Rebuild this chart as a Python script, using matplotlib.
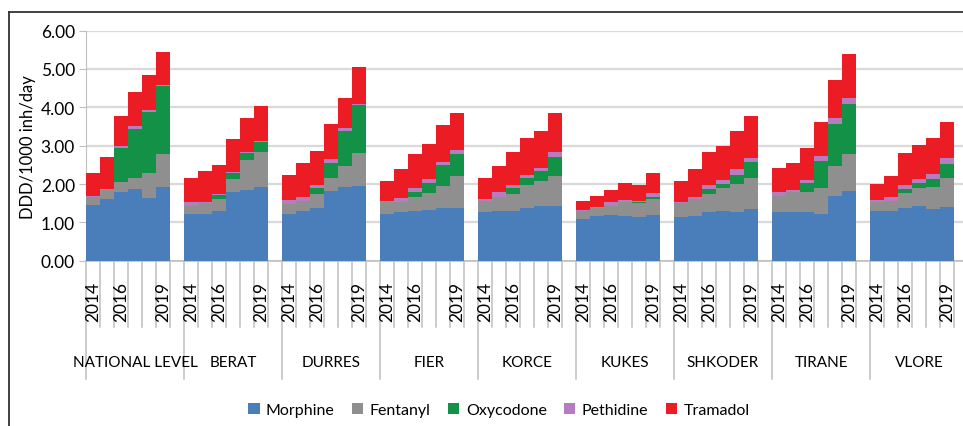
import numpy as np
import matplotlib
matplotlib.use('Agg')
import matplotlib.pyplot as plt
from matplotlib.patches import Patch
from matplotlib.lines import Line2D

plt.rcParams['font.family'] = ['Lato', 'DejaVu Sans']

groups = ['NATIONAL LEVEL', 'BERAT', 'DURRES', 'FIER', 'KORCE',
          'KUKES', 'SHKODER', 'TIRANE', 'VLORE']
years = ['2014', '2015', '2016', '2017', '2018', '2019']
shown_years = ['2014', '2016', '2019']
drugs = ['Morphine', 'Fentanyl', 'Oxycodone', 'Pethidine', 'Tramadol']
colors = ['#4a7ebb', '#8f8f8f', '#139146', '#b57cc0', '#ec1c24']

# DDD/1000 inh/day, one row per group, one value per year (2014..2019)
morphine = [
    [1.46, 1.61, 1.78, 1.87, 1.63, 1.91],
    [1.22, 1.23, 1.30, 1.80, 1.85, 1.91],
    [1.23, 1.30, 1.37, 1.83, 1.91, 1.96],
    [1.23, 1.26, 1.30, 1.33, 1.37, 1.37],
    [1.26, 1.29, 1.30, 1.37, 1.42, 1.43],
    [1.10, 1.16, 1.20, 1.17, 1.13, 1.19],
    [1.13, 1.17, 1.26, 1.30, 1.26, 1.35],
    [1.28, 1.28, 1.26, 1.22, 1.68, 1.81],
    [1.30, 1.30, 1.37, 1.42, 1.35, 1.39],
]
fentanyl = [
    [0.21, 0.24, 0.28, 0.30, 0.67, 0.86],
    [0.21, 0.27, 0.31, 0.33, 0.78, 0.93],
    [0.25, 0.25, 0.37, 0.34, 0.57, 0.85],
    [0.29, 0.28, 0.37, 0.44, 0.59, 0.85],
    [0.31, 0.36, 0.44, 0.60, 0.65, 0.77],
    [0.20, 0.21, 0.23, 0.35, 0.37, 0.42],
    [0.37, 0.44, 0.48, 0.59, 0.74, 0.82],
    [0.42, 0.50, 0.52, 0.68, 0.80, 0.97],
    [0.22, 0.27, 0.39, 0.47, 0.56, 0.77],
]
oxycodone = [
    [0.00, 0.00, 0.87, 1.26, 1.57, 1.78],
    [0.00, 0.00, 0.10, 0.16, 0.18, 0.25],
    [0.00, 0.00, 0.15, 0.38, 0.91, 1.25],
    [0.00, 0.00, 0.13, 0.26, 0.54, 0.55],
    [0.00, 0.00, 0.16, 0.18, 0.28, 0.50],
    [0.00, 0.00, 0.00, 0.00, 0.02, 0.04],
    [0.00, 0.00, 0.13, 0.11, 0.23, 0.40],
    [0.00, 0.00, 0.25, 0.71, 1.09, 1.31],
    [0.00, 0.00, 0.11, 0.13, 0.22, 0.36],
]
pethidine = [
    [0.03, 0.02, 0.07, 0.09, 0.05, 0.03],
    [0.09, 0.03, 0.03, 0.02, 0.02, 0.02],
    [0.10, 0.10, 0.08, 0.10, 0.06, 0.03],
    [0.04, 0.09, 0.10, 0.10, 0.08, 0.12],
    [0.04, 0.13, 0.08, 0.08, 0.08, 0.13],
    [0.03, 0.04, 0.09, 0.07, 0.05, 0.11],
    [0.03, 0.06, 0.11, 0.10, 0.16, 0.11],
    [0.10, 0.06, 0.07, 0.11, 0.15, 0.14],
    [0.06, 0.08, 0.11, 0.11, 0.13, 0.15],
]
tramadol = [
    [0.60, 0.83, 0.78, 0.89, 0.92, 0.85],
    [0.65, 0.82, 0.76, 0.86, 0.88, 0.92],
    [0.65, 0.89, 0.88, 0.92, 0.79, 0.95],
    [0.53, 0.76, 0.88, 0.91, 0.97, 0.95],
    [0.56, 0.70, 0.86, 0.96, 0.96, 1.01],
    [0.24, 0.27, 0.33, 0.44, 0.41, 0.53],
    [0.56, 0.72, 0.85, 0.88, 0.98, 1.10],
    [0.63, 0.71, 0.83, 0.91, 1.00, 1.16],
    [0.42, 0.57, 0.83, 0.89, 0.93, 0.94],
]
series = [morphine, fentanyl, oxycodone, pethidine, tramadol]

slots = len(years) + 1   # one empty slot after each group
fig = plt.figure(figsize=(9.63, 4.27), dpi=100)
ax = fig.add_axes([86 / 963, 0.387, 882 / 963, 0.539])

x = np.array([g * slots + i + 0.5 for g in range(len(groups)) for i in range(len(years))])
bottom = np.zeros(len(x))
for vals, col, name in zip(series, colors, drugs):
    v = np.array(vals).ravel()
    ax.bar(x, v, width=0.93, bottom=bottom, color=col, label=name, zorder=3)
    bottom += v

ax.set_ylim(0, 6)
ax.set_xlim(0, slots * len(groups))
ax.set_yticks(np.arange(0, 6.01, 1))
ax.set_yticklabels(['%.2f' % t for t in np.arange(0, 6.01, 1)], fontsize=12.5)
ax.yaxis.grid(True, color='#d9d9d9', lw=1.6, zorder=0)
ax.set_ylabel('DDD/1000 inh/day', fontsize=12, labelpad=3)
for s in ['top', 'right']:
    ax.spines[s].set_visible(False)
ax.spines['left'].set_color('#bfbfbf')
ax.spines['bottom'].set_color('#bfbfbf')
ax.spines['bottom'].set_linewidth(1.2)
ax.tick_params(axis='y', length=5, color='#bfbfbf', pad=3)
ax.tick_params(axis='x', bottom=False, labelbottom=False)

# multi-level category axis
trans = ax.get_xaxis_transform()
px = 1 / 230.0
for g, name in enumerate(groups):
    x0 = g * slots
    ax.plot([x0, x0], [0, -118 * px], color='#bfbfbf', lw=1.1, transform=trans, clip_on=False)
    for i in range(1, slots):
        ax.plot([x0 + i, x0 + i], [0, -66 * px], color='#bfbfbf', lw=1.1,
                transform=trans, clip_on=False)
    for i, yr in enumerate(years):
        if yr in shown_years:
            ax.text(x0 + i + 0.5, -40 * px, yr, rotation=90, ha='center', va='center',
                    fontsize=12.5, transform=trans)
    ax.text(x0 + slots / 2, -101 * px, name, ha='center', va='center',
            fontsize=11, transform=trans)

handles = [Patch(facecolor=c, edgecolor='none') for c in colors]
fig.legend(handles, drugs, loc='center', bbox_to_anchor=(499 / 963, 16 / 427), ncol=5,
           frameon=False, fontsize=11.5, handlelength=0.7, handleheight=0.7,
           handletextpad=0.4, columnspacing=1.1)

# outer chart frame (left and top edges visible)
fig.add_artist(Line2D([9 / 963, 9 / 963], [0, 1 - 13 / 427], color='#333333', lw=1.3))
fig.add_artist(Line2D([9 / 963, 1], [1 - 13 / 427, 1 - 13 / 427], color='#333333', lw=1.3))

fig.savefig('out.png', dpi=100)
